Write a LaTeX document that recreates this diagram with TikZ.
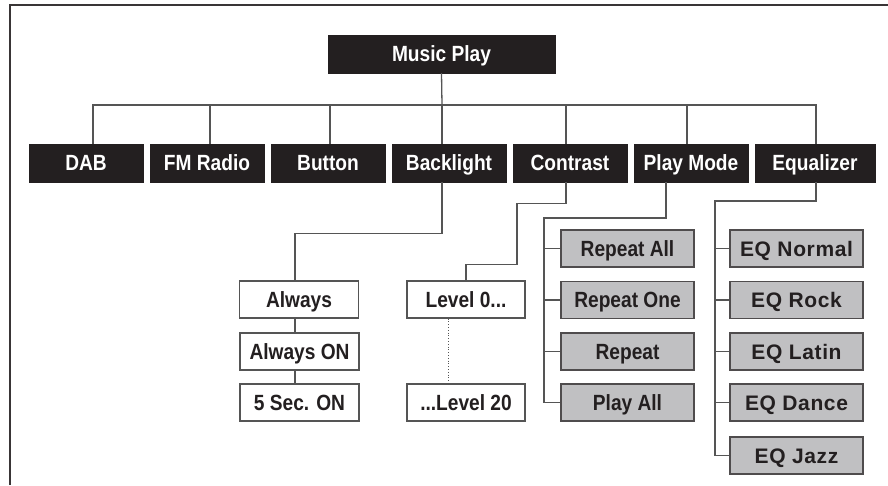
\documentclass[tikz,border=0pt]{standalone}
\usepackage{fontspec}
\setmainfont{Liberation Sans}[FakeStretch=0.87]
\newfontfamily\eqfont[LetterSpace=3]{Liberation Sans}
\usetikzlibrary{positioning}

\definecolor{boxblack}{HTML}{231F20}
\definecolor{boxgray}{HTML}{C0C0C2}
\definecolor{wireGray}{HTML}{555555}

\tikzset{
  menu/.style={rectangle,fill=boxblack,draw=boxblack,text=white,font=\fontsize{22}{24}\selectfont\bfseries,minimum height=38pt,inner sep=0pt,text height=15.5pt,text depth=0pt},
  opt/.style={rectangle,fill=white,draw=wireGray,line width=1.2pt,text=boxblack,font=\fontsize{22}{24}\selectfont\bfseries,minimum width=119pt,minimum height=37pt,inner sep=0pt,text height=15.5pt,text depth=0pt},
  sel/.style={rectangle,fill=boxgray,draw=boxblack!80,line width=1.2pt,text=boxblack,font=\fontsize{22}{24}\selectfont\bfseries,minimum width=133pt,minimum height=37pt,inner sep=0pt,text height=15.5pt,text depth=0pt},
  eqsel/.style={sel,font=\fontsize{21}{24}\selectfont\eqfont\bfseries,text height=15pt},
  wire/.style={draw=wireGray,line width=1.3pt}
}

\begin{document}
\begin{tikzpicture}[x=1pt,y=-1pt]
\useasboundingbox (0,0) rectangle (888,485);
\draw[boxblack!90,line width=2pt] (10,485) -- (10,5) -- (888,5);

% top
\node[menu,minimum width=227pt] (music) at (441.5,54) {Music Play};
\coordinate (bus) at (442,105);

% second row
\node[menu,minimum width=114pt] (dab) at (86,163) {DAB};
\node[menu,minimum width=114pt] (fm) at (207,163) {FM Radio};
\node[menu,minimum width=114pt] (button) at (328,163) {Button};
\node[menu,minimum width=114pt] (backlight) at (449,163) {Backlight};
\node[menu,minimum width=114pt] (contrast) at (570,163) {Contrast};
\node[menu,minimum width=114pt] (playmode) at (691,163) {Play Mode};
\node[menu,minimum width=120pt] (equalizer) at (815,163) {Equalizer};

\draw[wire] (music.south) -- (bus);
\draw[wire] ([xshift=7pt]dab.north) |- (bus);
\draw[wire] ([xshift=3pt]fm.north) |- (bus);
\draw[wire] ([xshift=2pt]button.north) |- (bus);
\draw[wire] ([xshift=-7pt]backlight.north) -- (bus);
\draw[wire] ([xshift=-4pt]contrast.north) |- (bus);
\draw[wire] ([xshift=-4pt]playmode.north) |- (bus);
\draw[wire] ([xshift=1pt]equalizer.north) |- (bus);

% backlight
\node[opt] (always) at (299,299.5) {Always};
\node[opt] (alwayson) at (299.5,351.5) {Always ON};
\node[opt] (fivesec) at (299.5,402.5) {5 Sec. ON};
\draw[wire] ([xshift=-7pt]backlight.south) |- ([xshift=-4pt,yshift=47pt]always.north) -- ([xshift=-4pt]always.north);
\draw[wire] ([xshift=-4pt]always.south) -- ([xshift=-4.5pt]alwayson.north);
\draw[wire] ([xshift=-4.5pt]alwayson.south) -- ([xshift=-4.5pt]fivesec.north);

% contrast
\node[opt,minimum width=118pt] (level0) at (466,299.5) {Level 0...};
\node[opt,minimum width=118pt] (level20) at (466,402.5) {...Level 20};
\draw[wire] ([xshift=-4pt]contrast.south) -- ++(0,21) -- ++(-49,0) -- ++(0,61) -| (level0.north);
\draw[wireGray,line width=0.8pt,dotted] ([xshift=-18pt]level0.south) -- ([xshift=-18pt]level20.north);

% play mode
\node[sel] (repeatall) at (627.5,248.5) {Repeat All};
\node[sel] (repeatone) at (627.5,300) {Repeat One};
\node[sel] (repeat) at (627.5,351.5) {Repeat};
\node[sel] (playall) at (627.5,402.5) {Play All};
\coordinate (pmbus) at (544,218);
\draw[wire] ([xshift=-25pt]playmode.south) |- (pmbus) |- (playall.west);
\foreach \n in {repeatall,repeatone,repeat}
  \draw[wire] (\n.west) -- ++(-17,0);

% equalizer
\node[eqsel] (eqnormal) at (796.5,248.5) {EQ Normal};
\node[eqsel] (eqrock) at (796.5,300) {EQ Rock};
\node[eqsel] (eqlatin) at (796.5,351.5) {EQ Latin};
\node[eqsel] (eqdance) at (796.5,402.5) {EQ Dance};
\node[eqsel] (eqjazz) at (796.5,455.5) {EQ Jazz};
\coordinate (eqbus) at (715,201);
\draw[wire] ([xshift=1pt]equalizer.south) |- (eqbus) |- (eqjazz.west);
\foreach \n in {eqnormal,eqrock,eqlatin,eqdance}
  \draw[wire] (\n.west) -- ++(-15,0);

\end{tikzpicture}
\end{document}
